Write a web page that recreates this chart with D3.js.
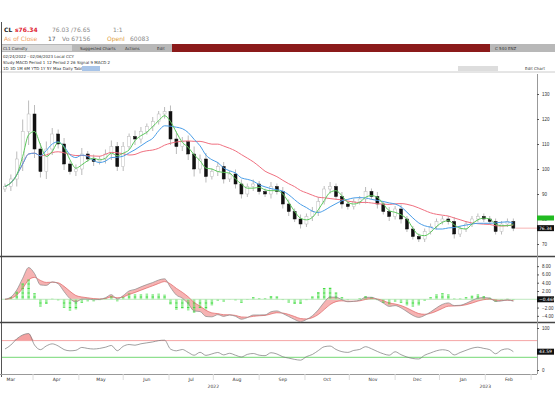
<!DOCTYPE html>
<html><head><meta charset="utf-8">
<script src="https://cdn.jsdelivr.net/npm/d3@7"></script>
<style>body{margin:0;background:#fff}svg{display:block;font-family:"DejaVu Sans",sans-serif}</style>
</head><body><svg id="c" width="555" height="400"></svg>
<script>
// closes, one bar every 4 calendar days
const closes = [93,96,104,115,122,108,99,108,114,110,102,99,100,106,104,103,104,106,109,101,
  109,113,112,115,117,119,122,123,112,109,111,106,100,104,97,99,101,96,98,94,
  90,93,94,91,90,93,91,86,83,80,78,81,83,87,92,93,89,86,85,87,
  88,91,89,86,83,81,84,80,76,73,72,75,77,79,80,79,74,76,78,80,
  81,80,79,75,78,79,76.34];
const wicks = [2,3,5,8,9,6,4,5,4,3,4,2,3,4,2,3,2,3,4,3,
  3,2,4,3,2,3,2,3,4,5,3,4,5,3,4,2,3,3,2,3,
  3,2,3,2,2,3,2,3,3,2,3,2,3,3,2,3,2,3,2,2,
  2,3,2,3,2,3,2,3,2,2,2,2,2,2,2,2,3,2,2,2,
  2,2,2,2,2,2,2];
const priceTicks = [70,80,90,100,110,120,130];
const macdTicks = [-4,-2,0,2,4,6,8];
const rsiTicks = [0,100];
const monthLabels = ["Mar","Apr","May","Jun","Jul","Aug","Sep","Oct","Nov","Dec","Jan","Feb"];

const start = new Date(2022,1,25);
const bars = closes.map((c,i)=>{
  const o = i ? closes[i-1] : c - 1;
  return {d:d3.timeDay.offset(start,i*4), o, c,
    h:Math.max(o,c)+wicks[i]*0.6, l:Math.min(o,c)-wicks[i]*0.6};
});
function sma(p){return closes.map((_,i)=>d3.mean(closes.slice(Math.max(0,i-p+1),i+1)));}
function ema(arr,p){const k=2/(p+1);let e=arr[0];return arr.map(v=>e=v*k+e*(1-k));}
const maG=sma(3), maB=sma(7), maR=sma(17);
const e1=ema(closes,5), e2=ema(closes,12);
const macd=e1.map((v,i)=>v-e2[i]), sig=ema(macd,4), hist=macd.map((v,i)=>v-sig[i]);
// Wilder RSI over 9 bars
let ag=0.8, al=0.8;
const rsi=closes.map((c,i)=>{
  if(i){const d=c-closes[i-1];ag=(ag*8+Math.max(d,0))/9;al=(al*8+Math.max(-d,0))/9;}
  return 100*ag/(ag+al);
});

const svg=d3.select("#c");
const x=d3.scaleTime().domain([new Date(2022,1,23),new Date(2023,1,20)]).range([2,537]);
const yP=d3.scaleLinear().domain([65.6,135.6]).range([255,80]);
const yM=d3.scaleLinear().domain([-5,9]).range([320,262]);
const yR=d3.scaleLinear().domain([0,100]).range([370,328]);

// header
const t=svg.append("g").style("font-size","6px");
t.append("text").attr("x",4).attr("y",32).attr("font-weight","bold").attr("fill","#222").text("CL");
t.append("text").attr("x",15).attr("y",32).attr("font-weight","bold").attr("fill","#e02030").text("s76.34");
t.append("text").attr("x",52).attr("y",32).attr("fill","#888").text("76.03 /76.65");
t.append("text").attr("x",113).attr("y",32).attr("fill","#888").text("1:1");
t.append("text").attr("x",4).attr("y",41).attr("fill","#f0a060").text("As of Close");
t.append("text").attr("x",48).attr("y",41).attr("fill","#555").text("17");
t.append("text").attr("x",62).attr("y",41).attr("fill","#888").text("Vo  67156");
t.append("text").attr("x",107).attr("y",41).attr("fill","#e0a040").text("OpenI");
t.append("text").attr("x",130).attr("y",41).attr("fill","#888").text("60083");
svg.append("rect").attr("x",1).attr("y",44).attr("width",554).attr("height",8).attr("fill","#b8b8b8");
svg.append("rect").attr("x",172).attr("y",44).attr("width",318).attr("height",8).attr("fill","#8b1a1a");
svg.append("rect").attr("x",2).attr("y",45).attr("width",70).attr("height",6).attr("fill","#d8d8d8");
const tb=svg.append("g").style("font-size","4px").attr("fill","#333");
tb.append("text").attr("x",3).attr("y",50).text("CL1 Comdty");
tb.append("text").attr("x",80).attr("y",50).text("Suggested Charts");
tb.append("text").attr("x",125).attr("y",50).text("Actions");
tb.append("text").attr("x",157).attr("y",50).text("Edit");
tb.append("text").attr("x",495).attr("y",50).text("C 540  ENZ");
[[0,58,"02/24/2022 - 02/06/2023   Local CCY"],[0,64,"Study  MACD       Period 1 12  Period 2 26  Signal 9    MACD 2"],[0,70,"1D 3D 1M 6M YTD 1Y 5Y Max  Daily       Table"]]
  .forEach(r=>tb.append("text").attr("x",r[0]+3).attr("y",r[1]).text(r[2]));
svg.append("rect").attr("x",82).attr("y",66).attr("width",18).attr("height",5).attr("fill","#a8c4e8");
svg.append("rect").attr("x",458).attr("y",66).attr("width",40).attr("height",5).attr("fill","#ddd");
tb.append("text").attr("x",460).attr("y",70).text("Add Data");
tb.append("text").attr("x",525).attr("y",70).text("Edit Chart");
svg.append("line").attr("x1",0).attr("x2",555).attr("y1",72).attr("y2",72).attr("stroke","#ccc");

// frames
svg.append("line").attr("x1",1.5).attr("x2",1.5).attr("y1",22).attr("y2",377).attr("stroke","#555");
[256.5,322.5].forEach(y=>svg.append("line").attr("x1",0).attr("x2",555).attr("y1",y).attr("y2",y).attr("stroke","#444").attr("stroke-width",1.5));
svg.append("line").attr("x1",537.5).attr("x2",537.5).attr("y1",74).attr("y2",374).attr("stroke","#999");
svg.append("line").attr("x1",0).attr("x2",537).attr("y1",374.5).attr("y2",374.5).attr("stroke","#999");

function rightAxis(scale,ticks,fmt){
  const g=svg.append("g").attr("transform","translate(537,0)")
    .call(d3.axisRight(scale).tickValues(ticks).tickSize(2).tickFormat(fmt));
  g.select(".domain").remove();
  g.selectAll("text").style("font-size","4.5px").attr("fill","#333");
  g.selectAll("line").attr("stroke","#555");
}
rightAxis(yP,priceTicks,d3.format("d"));
rightAxis(yM,macdTicks,d=>d?d3.format(".2f")(d):"");
rightAxis(yR,rsiTicks,d3.format("d"));

// candles
const bw=3;
const cg=svg.append("g");
cg.selectAll("line").data(bars).join("line")
  .attr("x1",d=>x(d.d)).attr("x2",d=>x(d.d)).attr("y1",d=>yP(d.h)).attr("y2",d=>yP(d.l))
  .attr("stroke","#aaa").attr("stroke-width",0.8);
cg.selectAll("rect").data(bars).join("rect")
  .attr("x",d=>x(d.d)-bw/2).attr("width",bw)
  .attr("y",d=>yP(Math.max(d.o,d.c))).attr("height",d=>Math.max(1,Math.abs(yP(d.o)-yP(d.c))))
  .attr("fill",d=>d.c>=d.o?"#fff":"#111").attr("stroke",d=>d.c>=d.o?"#bbb":"#111").attr("stroke-width",0.5);
const line=(s,arr)=>d3.line().x((_,i)=>x(bars[i].d)).y((v)=>s(v)).curve(d3.curveMonotoneX)(arr);
[[maR,"#f07080"],[maB,"#4a9ee8"],[maG,"#5cc85c"]].forEach(m=>
  svg.append("path").attr("d",line(yP,m[0])).attr("fill","none").attr("stroke",m[1]).attr("stroke-width",1));
const last=closes[closes.length-1];
svg.append("line").attr("x1",x(bars[bars.length-1].d)+2).attr("x2",537).attr("y1",yP(last)).attr("y2",yP(last)).attr("stroke","#f08080").attr("stroke-width",0.6);
svg.append("rect").attr("x",537).attr("y",yP(80.2)-3).attr("width",17).attr("height",5).attr("fill","#22bb22");
svg.append("rect").attr("x",537).attr("y",yP(last)-3).attr("width",17).attr("height",6).attr("fill","#111");
svg.append("text").attr("x",539).attr("y",yP(last)+1.5).attr("fill","#fff").style("font-size","4.5px").text(last.toFixed(2));

// MACD panel
const xi=(_,i)=>x(bars[i].d);
svg.append("path").attr("d",d3.area().x(xi).y0((_,i)=>yM(sig[i])).y1(v=>yM(v)).curve(d3.curveMonotoneX)(macd))
  .attr("fill","#f4a0a0").attr("opacity",0.8);
svg.append("g").selectAll("line").data(hist).join("line")
  .attr("x1",xi).attr("x2",xi).attr("y1",yM(0)).attr("y2",v=>yM(v*1.6))
  .attr("stroke","#44dd44").attr("stroke-width",2.5).attr("stroke-dasharray","0.8,0.5");
svg.append("line").attr("x1",2).attr("x2",537).attr("y1",yM(0)).attr("y2",yM(0)).attr("stroke","#bfe8bf");
svg.append("path").attr("d",line(yM,sig)).attr("fill","none").attr("stroke","#e06060").attr("stroke-width",0.7);
svg.append("path").attr("d",line(yM,macd)).attr("fill","none").attr("stroke","#888").attr("stroke-width",0.7);
svg.append("rect").attr("x",537).attr("y",yM(0)-3).attr("width",17).attr("height",6).attr("fill","#111");
svg.append("text").attr("x",539).attr("y",yM(0)+1.5).attr("fill","#fff").style("font-size","4.5px").text(d3.format(".3f")(macd[macd.length-1]));

// RSI panel
svg.append("line").attr("x1",2).attr("x2",537).attr("y1",yR(70)).attr("y2",yR(70)).attr("stroke","#f08080").attr("stroke-width",0.7);
svg.append("line").attr("x1",2).attr("x2",537).attr("y1",yR(30)).attr("y2",yR(30)).attr("stroke","#90e090").attr("stroke-width",1.2);
svg.append("path").attr("d",d3.area().x(xi).y0(yR(70)).y1(v=>yR(Math.max(70,v))).curve(d3.curveMonotoneX)(rsi)).attr("fill","#f4a0a0");
svg.append("path").attr("d",line(yR,rsi)).attr("fill","none").attr("stroke","#777").attr("stroke-width",0.7);
svg.append("rect").attr("x",537).attr("y",yR(rsi[rsi.length-1])-3).attr("width",17).attr("height",6).attr("fill","#111");
svg.append("text").attr("x",539).attr("y",yR(rsi[rsi.length-1])+1.5).attr("fill","#fff").style("font-size","4.5px").text(rsi[rsi.length-1].toFixed(2));

// date axis
const months=d3.timeMonth.range(new Date(2022,2,1),new Date(2023,2,1));
const ax=svg.append("g").style("font-size","4.5px").attr("fill","#333");
months.forEach((m,i)=>{
  ax.append("text").attr("x",x(m)).attr("y",381).attr("text-anchor","middle").text(monthLabels[i]);
  svg.append("line").attr("x1",x(d3.timeDay.offset(m,15))).attr("x2",x(d3.timeDay.offset(m,15))).attr("y1",374).attr("y2",380).attr("stroke","#ddd");
});
ax.append("text").attr("x",x(new Date(2022,6,16))).attr("y",388).attr("text-anchor","middle").text("2022");
ax.append("text").attr("x",x(new Date(2023,0,16))).attr("y",388).attr("text-anchor","middle").text("2023");
</script></body></html>
